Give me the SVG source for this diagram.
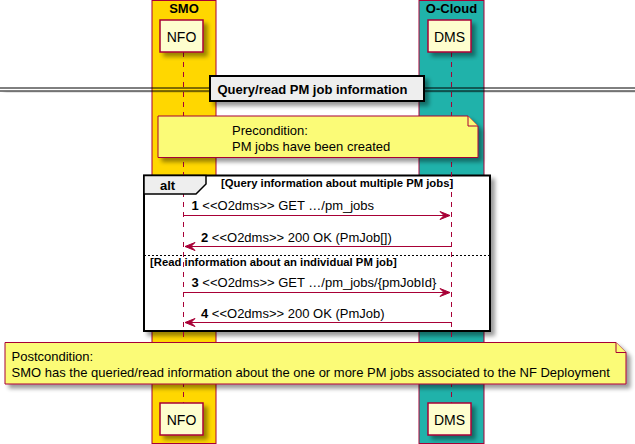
<svg xmlns="http://www.w3.org/2000/svg" width="635" height="444" viewBox="0 0 635 444">
<style>
text{font-family:"Liberation Sans",Arial,sans-serif;fill:#000}
.box{stroke:#A80036;stroke-width:1}
.part rect{fill:#FEFECE;stroke:#A80036;stroke-width:1.5}
.part text{font-size:14px;text-anchor:middle}
.life{stroke:#A80036;stroke-width:1;stroke-dasharray:5,5}
.msg line{stroke:#A80036;stroke-width:1}
.msg polygon{fill:#A80036;stroke:#A80036}
.msg text{font-size:13px}
.num{font-weight:bold}
.note path{fill:#FBFB77;stroke:#A80036;stroke-width:1}
.note text{font-size:13px}
.bold{font-weight:bold}
.cond{font-size:11.3px;font-weight:bold}
</style>
<defs>
<filter id="sh" x="-10%" y="-20%" width="130%" height="160%">
<feGaussianBlur in="SourceAlpha" stdDeviation="2"/>
<feOffset dx="4" dy="4" result="b"/>
<feComponentTransfer><feFuncA type="linear" slope="0.4"/></feComponentTransfer>
<feMerge><feMergeNode/><feMergeNode in="SourceGraphic"/></feMerge>
</filter>
</defs>

<g id="box-smo">
<rect class="box" x="152" y="0.5" width="64" height="443" fill="#FFD700"/>
<text x="184" y="13" font-size="13" font-weight="bold" text-anchor="middle">SMO</text>
</g>
<g id="box-ocloud">
<rect class="box" x="419" y="0.5" width="65" height="443" fill="#20B2AA"/>
<text x="451.5" y="13" font-size="13" font-weight="bold" text-anchor="middle">O-Cloud</text>
</g>

<g id="alt-frame">
<rect x="144" y="175.5" width="346" height="155.5" fill="#FFFFFF" stroke="#000" stroke-width="2" filter="url(#sh)"/>
</g>

<g id="lifelines">
<line class="life" x1="183.5" y1="52" x2="183.5" y2="403"/>
<line class="life" x1="451.5" y1="52" x2="451.5" y2="403"/>
</g>

<g id="NFO" class="part">
<rect x="160" y="20" width="43" height="32" filter="url(#sh)"/>
<text x="181.5" y="41.5">NFO</text>
<rect x="160" y="403" width="43" height="32" filter="url(#sh)"/>
<text x="181.5" y="424.5">NFO</text>
</g>
<g id="DMS" class="part">
<rect x="428" y="20" width="43" height="32" filter="url(#sh)"/>
<text x="449.5" y="41.5">DMS</text>
<rect x="428" y="403" width="43" height="32" filter="url(#sh)"/>
<text x="449.5" y="424.5">DMS</text>
</g>

<g id="separator">
<g filter="url(#sh)">
<line x1="0" y1="88" x2="635" y2="88" stroke="#000" stroke-width="1"/>
<line x1="0" y1="91" x2="635" y2="91" stroke="#000" stroke-width="1"/>
</g>
<rect x="210" y="76" width="214" height="25" fill="#EEEEEE" stroke="#000" stroke-width="2" filter="url(#sh)"/>
<text x="217.5" y="94" font-size="13" class="bold">Query/read PM job information</text>
</g>

<g id="note-pre" class="note">
<path d="M158,116 H468 L478,126 V157.5 H158 Z" filter="url(#sh)"/>
<path d="M468,116 V126 H478" fill="none"/>
<text x="232" y="135">Precondition:</text>
<text x="232" y="151">PM jobs have been created</text>
</g>

<g id="alt">
<path d="M144,175.5 H206 V184 L196,194 H144 Z" fill="#EEEEEE" stroke="#000" stroke-width="1.5"/>
<text x="160" y="190" font-size="13" class="bold">alt</text>
<text x="221" y="187" class="cond">[Query information about multiple PM jobs]</text>
<line x1="144" y1="255.5" x2="490" y2="255.5" stroke="#000" stroke-width="1" stroke-dasharray="2,2"/>
<text x="150" y="266" class="cond">[Read information about an individual PM job]</text>
</g>

<g id="connectors">
<g class="msg" id="m1">
<line x1="183.5" y1="215.5" x2="450" y2="215.5"/>
<polygon points="440,211.5 450,215.5 440,219.5 444,215.5"/>
<text x="191.5" y="210"><tspan class="num">1</tspan> &lt;&lt;O2dms&gt;&gt; GET …/pm_jobs</text>
</g>
<g class="msg" id="m2">
<line x1="185" y1="246.5" x2="451.5" y2="246.5"/>
<polygon points="195,242.5 185,246.5 195,250.5 191,246.5"/>
<text x="201" y="241.5"><tspan class="num">2</tspan> &lt;&lt;O2dms&gt;&gt; 200 OK (PmJob[])</text>
</g>
<g class="msg" id="m3">
<line x1="183.5" y1="292.5" x2="450" y2="292.5"/>
<polygon points="440,288.5 450,292.5 440,296.5 444,292.5"/>
<text x="191.5" y="287"><tspan class="num">3</tspan> &lt;&lt;O2dms&gt;&gt; GET …/pm_jobs/{pmJobId}</text>
</g>
<g class="msg" id="m4">
<line x1="185" y1="322.5" x2="451.5" y2="322.5"/>
<polygon points="195,318.5 185,322.5 195,326.5 191,322.5"/>
<text x="201" y="317.5"><tspan class="num">4</tspan> &lt;&lt;O2dms&gt;&gt; 200 OK (PmJob)</text>
</g>
</g>

<g id="note-post" class="note">
<path d="M5,342.5 H616 L626,352.5 V384 H5 Z" filter="url(#sh)"/>
<path d="M616,342.5 V352.5 H626" fill="none"/>
<text x="11.5" y="361">Postcondition:</text>
<text x="11.5" y="377">SMO has the queried/read information about the one or more PM jobs associated to the NF Deployment</text>
</g>
</svg>
